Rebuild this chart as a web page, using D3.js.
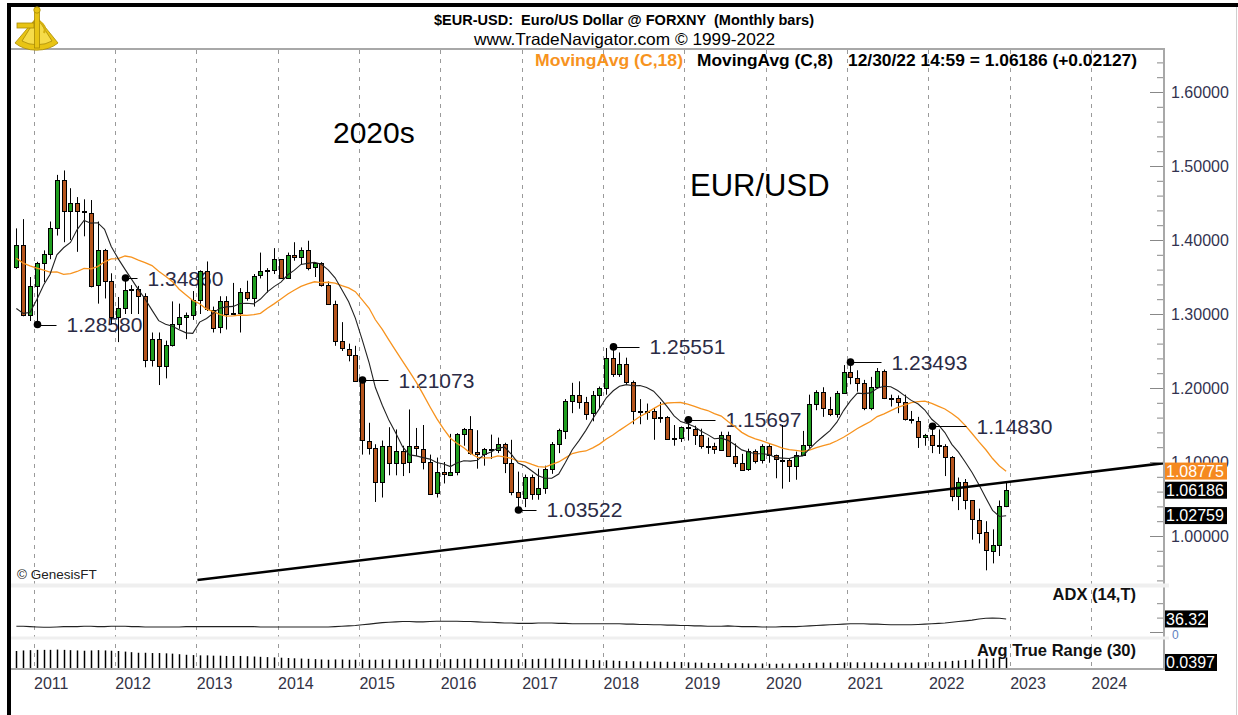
<!DOCTYPE html>
<html><head><meta charset="utf-8">
<script src="https://cdn.jsdelivr.net/npm/d3@7"></script>
<style>
html,body{margin:0;padding:0;background:#fff;}
svg{display:block;font-family:"Liberation Sans",Arial,Helvetica,sans-serif;}
text{white-space:pre;}
</style></head><body>
<svg id="chart" width="1238" height="715"></svg>
<script>
// ---------------- DATA ----------------
// Monthly bars Oct 2010 .. Dec 2022
const firstMonth = "2010-10";
const lastMonth = "2022-12";
const opens = [
1.3630,1.3930,1.2990,
1.3380,1.3690,1.3810,1.4160,1.4810,1.4390,1.4500,1.4390,1.4370,1.3390,1.3860,1.3440,
1.2960,1.3080,1.3330,1.3340,1.3240,1.2370,1.2660,1.2300,1.2580,1.2860,1.2960,1.2990,
1.3190,1.3580,1.3060,1.2820,1.3170,1.3000,1.3010,1.3300,1.3220,1.3520,1.3580,1.3590,
1.3740,1.3490,1.3800,1.3770,1.3870,1.3630,1.3690,1.3390,1.3130,1.2630,1.2530,1.2450,
1.2107,1.1290,1.1190,1.0730,1.1220,1.0990,1.1150,1.0990,1.1210,1.1180,1.1000,1.0570,
1.0860,1.0830,1.0870,1.1380,1.1450,1.1130,1.1100,1.1170,1.1160,1.1240,1.0980,1.0590,
1.0520,1.0800,1.0570,1.0650,1.0900,1.1240,1.1430,1.1830,1.1910,1.1810,1.1650,1.1900,
1.2000,1.2410,1.2190,1.2320,1.2080,1.1690,1.1680,1.1690,1.1600,1.1610,1.1310,1.1320,
1.1470,1.1450,1.1370,1.1220,1.1210,1.1170,1.1370,1.1080,1.0990,1.0900,1.1150,1.1020,
1.1210,1.1090,1.1030,1.1030,1.0950,1.1100,1.1230,1.1780,1.1940,1.1720,1.1650,1.1930,
1.2210,1.2140,1.2070,1.1730,1.2020,1.2230,1.1860,1.1870,1.1810,1.1580,1.1560,1.1340,
1.1370,1.1230,1.1220,1.1070,1.0540,1.0730,1.0480,1.0220,1.0050,0.9800,0.9880,1.0406];
const highs = [
1.4157,1.4282,1.3500,
1.3705,1.3860,1.4250,1.4880,1.4940,1.4700,1.4580,1.4550,1.4540,1.4250,1.3880,1.3550,
1.3230,1.3486,1.3390,1.3380,1.3280,1.2750,1.2750,1.2640,1.3170,1.3140,1.3020,1.3310,
1.3590,1.3710,1.3100,1.3240,1.3240,1.3420,1.3350,1.3450,1.3540,1.3830,1.3620,1.3890,
1.3740,1.3830,1.3970,1.3900,1.3990,1.3680,1.3700,1.3440,1.3180,1.2890,1.2600,1.2570,
1.2107,1.1530,1.1240,1.1290,1.1470,1.1440,1.1220,1.1710,1.1460,1.1500,1.1100,1.1060,
1.1000,1.1380,1.1390,1.1460,1.1620,1.1430,1.1190,1.1370,1.1330,1.1260,1.1300,1.0870,
1.0830,1.0830,1.0910,1.0950,1.1270,1.1450,1.1850,1.2070,1.2090,1.1880,1.1960,1.2020,
1.2540,1.2555,1.2480,1.2410,1.2100,1.1850,1.1790,1.1730,1.1810,1.1620,1.1500,1.1480,
1.1570,1.1490,1.1450,1.1330,1.1260,1.1410,1.1410,1.1250,1.1110,1.1180,1.1170,1.1240,
1.1240,1.1100,1.1500,1.1040,1.1140,1.1420,1.1910,1.1970,1.2010,1.1880,1.1960,1.2310,
1.2349,1.2240,1.2110,1.2150,1.2270,1.2250,1.1910,1.1900,1.1910,1.1690,1.1610,1.1380,
1.1483,1.1440,1.1240,1.1080,1.0790,1.0770,1.0480,1.0370,1.0200,1.0090,1.0480,1.0736];
const lows = [
1.3610,1.2969,1.2905,
1.2858,1.3430,1.3740,1.4060,1.3970,1.4000,1.3840,1.4050,1.3360,1.3140,1.3210,1.2860,
1.2620,1.3000,1.3000,1.3000,1.2280,1.2290,1.2040,1.2130,1.2560,1.2800,1.2660,1.2920,
1.3000,1.3040,1.2750,1.2740,1.2790,1.3000,1.2750,1.3180,1.3100,1.3480,1.3290,1.3540,
1.3480,1.3480,1.3720,1.3670,1.3590,1.3500,1.3370,1.3130,1.2570,1.2500,1.2360,1.2100,
1.1100,1.1100,1.0460,1.0520,1.0820,1.0820,1.0810,1.0850,1.1080,1.0900,1.0560,1.0520,
1.0710,1.0810,1.0820,1.1220,1.1100,1.0910,1.0950,1.1040,1.1120,1.0850,1.0550,1.0352,
1.0390,1.0490,1.0490,1.0570,1.0840,1.1120,1.1310,1.1660,1.1720,1.1570,1.1550,1.1720,
1.1910,1.2150,1.2150,1.2050,1.1510,1.1510,1.1570,1.1300,1.1530,1.1300,1.1220,1.1270,
1.1290,1.1230,1.1180,1.1110,1.1110,1.1160,1.1070,1.0930,1.0880,1.0880,1.0980,1.0980,
1.0990,1.0780,1.0640,1.0730,1.0760,1.1090,1.1190,1.1700,1.1610,1.1620,1.1600,1.1920,
1.2050,1.1950,1.1700,1.1700,1.1990,1.1850,1.1750,1.1660,1.1560,1.1520,1.1190,1.1220,
1.1120,1.1110,1.0810,1.0470,1.0350,1.0360,0.9950,0.9900,0.9536,0.9630,0.9730,1.0390];
const closes = [
1.3930,1.2990,1.3380,
1.3690,1.3810,1.4160,1.4810,1.4390,1.4500,1.4390,1.4370,1.3390,1.3860,1.3440,1.2960,
1.3080,1.3330,1.3340,1.3240,1.2370,1.2660,1.2300,1.2580,1.2860,1.2960,1.2990,1.3190,
1.3580,1.3060,1.2820,1.3170,1.3000,1.3010,1.3300,1.3220,1.3520,1.3580,1.3590,1.3740,
1.3490,1.3800,1.3770,1.3870,1.3630,1.3690,1.3390,1.3130,1.2630,1.2530,1.2450,1.2100,
1.1290,1.1190,1.0730,1.1220,1.0990,1.1150,1.0990,1.1210,1.1180,1.1000,1.0570,1.0860,
1.0830,1.0870,1.1380,1.1450,1.1130,1.1100,1.1170,1.1160,1.1240,1.0980,1.0590,1.0520,
1.0800,1.0570,1.0650,1.0900,1.1240,1.1430,1.1830,1.1910,1.1810,1.1650,1.1900,1.2000,
1.2410,1.2190,1.2320,1.2080,1.1690,1.1680,1.1690,1.1600,1.1610,1.1310,1.1320,1.1470,
1.1450,1.1370,1.1220,1.1210,1.1170,1.1370,1.1080,1.0990,1.0900,1.1150,1.1020,1.1210,
1.1090,1.1030,1.1030,1.0950,1.1100,1.1230,1.1780,1.1940,1.1720,1.1650,1.1930,1.2210,
1.2140,1.2070,1.1730,1.2020,1.2230,1.1860,1.1870,1.1810,1.1580,1.1560,1.1340,1.1370,
1.1230,1.1220,1.1070,1.0540,1.0730,1.0480,1.0220,1.0050,0.9800,0.9880,1.0406,1.06186];
// closes May 2009 .. Sep 2010 (needed for the moving averages at the first bars)
const preCloses = [1.4150,1.4030,1.4250,1.4330,1.4640,1.4720,1.5000,1.4330,1.3870,1.3630,1.3510,1.3290,1.2270,1.2230,1.3050,1.2680,1.3630];
// ADX (14,T) monthly
const adxValues = [
16,16,15,
14,13,13,14,15,15,15,16,16,15,15,16,
16,16,15,15,14,14,14,14,14,14,15,15,
15,15,15,15,15,15,15,15,15,14,14,14,
14,14,14,14,14,14,14,14,15,16,17,18,
20,22,24,26,27,28,29,29,28,28,29,30,
30,30,30,29,29,28,27,27,26,25,25,24,
24,24,25,25,25,24,24,23,23,23,23,23,
23,23,23,22,22,21,21,20,20,19,19,18,
18,17,17,16,16,16,17,16,15,15,15,14,
14,14,15,15,15,16,17,18,19,20,21,22,
23,23,23,22,22,21,20,20,20,20,21,22,
23,24,25,27,29,31,33,36,38,39,38,36.32];
// Avg True Range (30) monthly
const atrValues = [
0.062,0.064,0.065,
0.066,0.066,0.066,0.067,0.066,0.065,0.064,0.063,0.064,0.065,0.064,0.063,
0.062,0.060,0.058,0.056,0.056,0.055,0.055,0.054,0.053,0.051,0.049,0.048,
0.047,0.047,0.046,0.046,0.045,0.045,0.045,0.044,0.043,0.042,0.041,0.040,
0.039,0.038,0.037,0.036,0.035,0.034,0.033,0.032,0.033,0.033,0.032,0.032,
0.033,0.032,0.032,0.033,0.033,0.033,0.033,0.033,0.034,0.034,0.034,0.034,
0.034,0.034,0.035,0.035,0.035,0.035,0.035,0.035,0.034,0.034,0.034,0.034,
0.034,0.034,0.035,0.036,0.036,0.036,0.035,0.034,0.033,0.032,0.031,0.030,
0.030,0.029,0.028,0.027,0.027,0.026,0.026,0.026,0.025,0.025,0.025,0.024,
0.023,0.022,0.022,0.021,0.021,0.021,0.020,0.020,0.020,0.019,0.019,0.019,
0.018,0.018,0.019,0.019,0.019,0.020,0.021,0.022,0.022,0.022,0.023,0.023,
0.023,0.023,0.023,0.023,0.022,0.022,0.022,0.022,0.022,0.022,0.023,0.023,
0.024,0.025,0.026,0.028,0.029,0.031,0.033,0.034,0.036,0.037,0.039,0.0397];
// annotated extremes
const annotMonths = ["2011-01","2012-02","2015-01","2016-12","2018-02","2019-01","2021-01","2022-01"];
const annotValues = [1.28580,1.34860,1.21073,1.03522,1.25551,1.15697,1.23493,1.14830];
// hand-drawn trend line (two anchor points: date, price)
const trendDates = ["2013-01-06","2024-11-27"];
const trendValues = [0.9405,1.0986];
// last values shown in the right-hand boxes
const lastMa18 = 1.08775, lastClose = 1.06186, lastMa8 = 1.02759, lastAdx = 36.32, lastAtr = 0.0397;
// tick labels
const priceTicks = [1.0,1.1,1.2,1.3,1.4,1.5,1.6];
const yearTicks = [2011,2012,2013,2014,2015,2016,2017,2018,2019,2020,2021,2022,2023,2024];
const adxTicks = [0,40,80];

// ---------------- SETUP ----------------
const svg = d3.select("#chart");
const parseM = d3.timeParse("%Y-%m");
const months = d3.timeMonth.range(parseM(firstMonth), d3.timeMonth.offset(parseM(lastMonth),1));
const mid = m => d3.timeDay.offset(m, 15);
const bars = months.map((m,i)=>({date: mid(m), o:opens[i], h:highs[i], l:lows[i], c:closes[i], adx:adxValues[i], atr:atrValues[i]}));
const allC = preCloses.concat(closes);
const sma = n => closes.map((_,i)=>{const j=i+preCloses.length; return d3.mean(allC.slice(j-n+1,j+1));});
const ma18 = sma(18), ma8 = sma(8);

const L = 11, R = 1164, TOP = 49, MAINB = 583, ADXT = 588, ADXB = 636, ATRT = 640, BOT = 669;
const x = d3.scaleTime().domain([new Date(2011,0,1), new Date(2024,0,1)]).range([33.5,1091]);
const y = d3.scaleLinear().domain([1.0,1.6]).range([536,92]);
const yAdx = d3.scaleLinear().domain([0,40]).range([632,617.6]);
const yAtr = d3.scaleLinear().domain([0,0.1]).range([BOT,640]);
const cx = d => Math.round(x(d)) + 0.5;

const GREEN = "#1f9e1f", BROWN = "#b5541c", ORANGE = "#f7931e";

svg.append("rect").attr("width",1238).attr("height",715).attr("fill","#fff");
svg.append("defs").append("clipPath").attr("id","mainClip").append("rect")
  .attr("x",L).attr("y",TOP).attr("width",R-L).attr("height",MAINB-TOP);

// gridlines
const yearDates = yearTicks.map(yr=>new Date(yr,0,1));
svg.append("g").selectAll("line").data(yearDates).join("line")
  .attr("x1",d=>cx(d)).attr("x2",d=>cx(d)).attr("y1",TOP+1).attr("y2",BOT)
  .attr("stroke","#9a9a9a").attr("stroke-width",1).attr("stroke-dasharray","4,5");

// background texts
svg.append("text").attr("x",333).attr("y",143).attr("font-size",30).attr("fill","#000").text("2020s");
svg.append("text").attr("x",690).attr("y",196).attr("font-size",31).attr("fill","#000").text("EUR/USD");
svg.append("text").attr("x",17).attr("y",579).attr("font-size",13.5).attr("fill","#222").text("© GenesisFT");

// annotation labels (behind candles)
const labelGap = [29,22,36,28,36,37,41,44];
const ann = annotMonths.map((m,i)=>({date: mid(parseM(m)), v: annotValues[i], gap: labelGap[i]}));
const gLbl = svg.append("g");
gLbl.selectAll("text").data(ann).join("text")
  .attr("x",d=>cx(d.date)+d.gap).attr("y",d=>y(d.v)).attr("dy","0.36em")
  .attr("font-size",21).attr("fill","#2b2b45").text(d=>d3.format(".5f")(d.v));

// candles
const gMain = svg.append("g").attr("clip-path","url(#mainClip)");
gMain.append("g").selectAll("line").data(bars).join("line")
  .attr("x1",d=>cx(d.date)).attr("x2",d=>cx(d.date))
  .attr("y1",d=>y(Math.max(d.h,d.o,d.c))).attr("y2",d=>y(Math.min(d.l,d.o,d.c)))
  .attr("stroke","#000").attr("stroke-width",1);
gMain.append("g").selectAll("rect").data(bars).join("rect")
  .attr("x",d=>cx(d.date)-2).attr("width",4)
  .attr("y",d=>Math.round(y(Math.max(d.o,d.c)))+0.5)
  .attr("height",d=>Math.max(1,Math.round(Math.abs(y(d.o)-y(d.c)))))
  .attr("fill",d=>d.c>=d.o?GREEN:BROWN).attr("stroke","#000").attr("stroke-width",1);

// moving averages (simple MAs of the close, as in the legend)
const lineMa = arr => d3.line().x((d,i)=>x(bars[i].date)).y(d=>y(d))(arr);
gMain.append("path").attr("d",lineMa(ma18)).attr("fill","none").attr("stroke",ORANGE).attr("stroke-width",1.3);
gMain.append("path").attr("d",lineMa(ma8)).attr("fill","none").attr("stroke","#222").attr("stroke-width",1.1);

// trend line
const trend = trendDates.map((d,i)=>({date:new Date(d+"T00:00:00"), v:trendValues[i]}));
gMain.append("path").attr("d",d3.line().x(d=>x(d.date)).y(d=>y(d.v))(trend))
  .attr("fill","none").attr("stroke","#000").attr("stroke-width",2.6);

// annotation dots and leader lines
const gA = svg.append("g");
gA.selectAll("line").data(ann).join("line")
  .attr("x1",d=>cx(d.date)).attr("x2",d=>cx(d.date)+d.gap-10)
  .attr("y1",d=>Math.round(y(d.v))+0.5).attr("y2",d=>Math.round(y(d.v))+0.5)
  .attr("stroke","#000").attr("stroke-width",1);
gA.selectAll("circle").data(ann).join("circle")
  .attr("cx",d=>cx(d.date)).attr("cy",d=>y(d.v)).attr("r",3.8).attr("fill","#000");

// ADX line
svg.append("path").attr("d",d3.line().x(d=>x(d.date)).y(d=>yAdx(d.adx))(bars))
  .attr("fill","none").attr("stroke","#222").attr("stroke-width",1.1);

// ATR bars
svg.append("g").selectAll("line").data(bars).join("line")
  .attr("x1",d=>cx(d.date)).attr("x2",d=>cx(d.date))
  .attr("y1",yAtr(0)).attr("y2",d=>yAtr(d.atr))
  .attr("stroke","#000").attr("stroke-width",1.5);

// frame lines
svg.append("line").attr("x1",L).attr("x2",R+1).attr("y1",TOP).attr("y2",TOP).attr("stroke","#a8a8a8").attr("stroke-width",2);
svg.append("line").attr("x1",L).attr("x2",R+1).attr("y1",BOT).attr("y2",BOT).attr("stroke","#a8a8a8").attr("stroke-width",2);
svg.append("line").attr("x1",R).attr("x2",R).attr("y1",TOP).attr("y2",BOT).attr("stroke","#a8a8a8").attr("stroke-width",2);
// panel separators
[[MAINB,ADXT],[ADXB,ATRT]].forEach(([a,b])=>{
  svg.append("rect").attr("x",L).attr("y",a+0.5).attr("width",R-L+5).attr("height",b-a-1).attr("fill","#efefef");
});

// right price axis
const minorTicks = d3.range(47,83).map(k=>k*0.02).filter(v=>Math.abs(v*10-Math.round(v*10))>1e-6 && y(v)>TOP+2 && y(v)<MAINB-1);
const gMinor = svg.append("g").attr("transform",`translate(${R-1},0)`)
  .call(d3.axisRight(y).tickValues(minorTicks).tickSize(-6).tickFormat(""));
const gY = svg.append("g").attr("transform",`translate(${R-1},0)`)
  .call(d3.axisRight(y).tickValues(priceTicks).tickSize(-13).tickPadding(8).tickFormat(d3.format(".5f")));
[gMinor,gY].forEach(g=>{g.select(".domain").remove(); g.selectAll(".tick line").attr("stroke","#888");});
gY.selectAll(".tick text").attr("font-size",16).attr("fill","#333350").attr("font-family","Liberation Sans,Arial,sans-serif");

// ADX axis ticks
const gAdx = svg.append("g").attr("transform",`translate(${R-1},0)`)
  .call(d3.axisRight(yAdx).tickValues(adxTicks).tickSize(-6).tickFormat(""));
gAdx.select(".domain").remove();
gAdx.selectAll(".tick line").attr("stroke","#888").attr("x2",d=>d===0?-13:-6);
svg.append("text").attr("x",1172).attr("y",yAdx(0)+7).attr("font-size",12).attr("fill","#5f7fc0").text("0");

// bottom year axis
const gX = svg.append("g").attr("transform",`translate(0,${BOT})`)
  .call(d3.axisBottom(x).tickValues(yearDates).tickSize(0).tickPadding(9).tickFormat(d3.timeFormat("%Y")));
gX.select(".domain").remove();
gX.selectAll(".tick text").attr("text-anchor","start").attr("font-size",16).attr("fill","#333345")
  .attr("font-family","Liberation Sans,Arial,sans-serif");

// value boxes on right
function valBox(yc, txt, fill, w){
  svg.append("rect").attr("x",R+1).attr("y",yc-8.5).attr("width",w).attr("height",17).attr("fill",fill);
  svg.append("text").attr("x",R+2).attr("y",yc).attr("dy","0.36em").attr("font-size",16).attr("fill","#fff").text(txt);
}
valBox(y(lastMa18), d3.format(".5f")(lastMa18), "#f5891f", 62);
valBox(y(lastClose), d3.format(".5f")(lastClose), "#000", 62);
valBox(y(lastMa8), d3.format(".5f")(lastMa8), "#000", 62);
valBox(yAdx(lastAdx), d3.format(".2f")(lastAdx), "#000", 43);
valBox(yAtr(lastAtr)+5, d3.format(".4f")(lastAtr), "#000", 52);

// panel labels
svg.append("text").attr("x",1136).attr("y",600).attr("text-anchor","end").attr("font-size",16.5).attr("font-weight","bold").attr("fill","#111").text("ADX (14,T)");
svg.append("text").attr("x",1136).attr("y",656).attr("text-anchor","end").attr("font-size",16.5).attr("font-weight","bold").attr("fill","#111").text("Avg True Range (30)");

// header
svg.append("text").attr("x",434).attr("y",25).attr("font-size",14.5).attr("font-weight","bold").attr("fill","#000")
  .attr("textLength",380).attr("lengthAdjust","spacingAndGlyphs").text("$EUR-USD:  Euro/US Dollar @ FORXNY  (Monthly bars)");
svg.append("text").attr("x",474).attr("y",45).attr("font-size",16.5).attr("fill","#000")
  .attr("textLength",301).attr("lengthAdjust","spacingAndGlyphs").text("www.TradeNavigator.com © 1999-2022");
svg.append("text").attr("x",535).attr("y",66).attr("font-size",16.5).attr("font-weight","bold").attr("fill",ORANGE)
  .attr("textLength",148).attr("lengthAdjust","spacingAndGlyphs").text("MovingAvg (C,18)");
svg.append("text").attr("x",697).attr("y",66).attr("font-size",16.5).attr("font-weight","bold").attr("fill","#000")
  .attr("textLength",136).attr("lengthAdjust","spacingAndGlyphs").text("MovingAvg (C,8)");
svg.append("text").attr("x",848).attr("y",66).attr("font-size",16.5).attr("font-weight","bold").attr("fill","#000")
  .attr("textLength",289).attr("lengthAdjust","spacingAndGlyphs").text("12/30/22 14:59 = 1.06186 (+0.02127)");

// outer frame
svg.append("rect").attr("x",7).attr("y",3).attr("width",1231).attr("height",4).attr("fill","#000");
svg.append("rect").attr("x",7).attr("y",3).attr("width",4).attr("height",712).attr("fill","#000");
svg.append("line").attr("x1",1236.5).attr("x2",1236.5).attr("y1",7).attr("y2",715).attr("stroke","#cfcfcf");

// logo (sextant)
const logo = svg.append("g").attr("fill","#e8c414").attr("stroke","#a88a05").attr("stroke-width",0.8);
logo.append("path").attr("d","M37,17 L15,43 A28,20 0 0 0 58,43 Z");
logo.append("path").attr("d","M37,17 L22,41 A22,14 0 0 0 52,41 Z").attr("fill","#f6dc4a");
logo.append("rect").attr("x",34.5).attr("y",10).attr("width",5).attr("height",38);
logo.append("rect").attr("x",17).attr("y",23).attr("width",17).attr("height",5);
logo.append("circle").attr("cx",37).attr("cy",10).attr("r",3.2);
logo.append("path").attr("d","M40,22 Q47,26 44,33").attr("fill","none").attr("stroke-width",2.2).attr("stroke","#d4b010");
</script>
</body></html>
